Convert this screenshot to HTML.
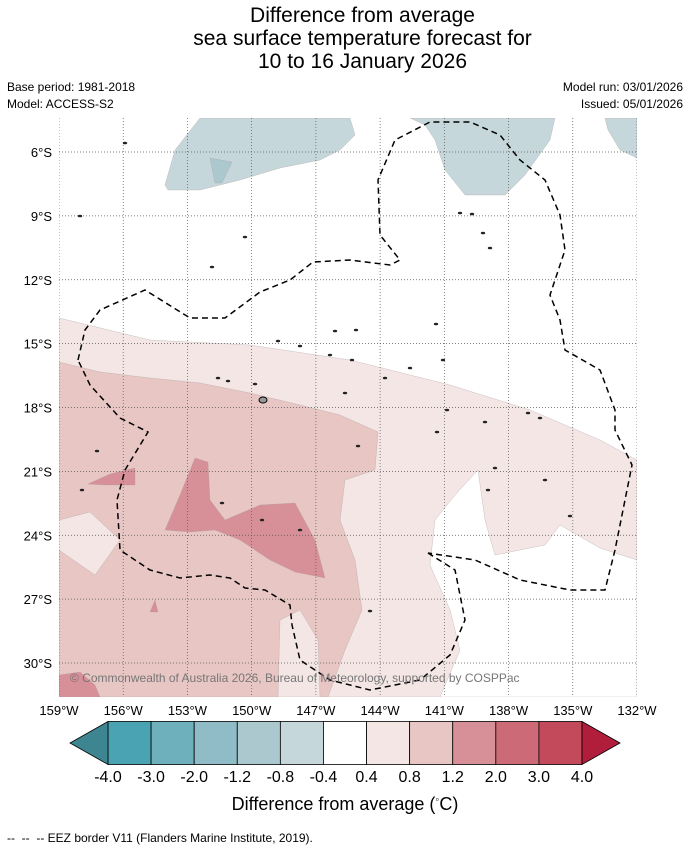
<!DOCTYPE html>
<html><head><meta charset="utf-8"><style>
body{margin:0;background:#fff;font-family:"Liberation Sans","DejaVu Sans",sans-serif}
#wrap{position:relative;width:690px;height:850px;background:#fff;overflow:hidden}
.t{position:absolute;color:#000}
</style></head><body>
<div id="wrap">
<div class="t" style="left:0;width:725px;top:4px;text-align:center;font-size:21px;line-height:23px">Difference from average<br>sea surface temperature forecast for<br>10 to 16 January 2026</div>
<div class="t" style="left:7px;top:80px;font-size:12px">Base period: 1981-2018</div>
<div class="t" style="left:7px;top:97px;font-size:12px">Model: ACCESS-S2</div>
<div class="t" style="right:7px;top:80px;font-size:12px;text-align:right">Model run: 03/01/2026</div>
<div class="t" style="right:7px;top:97px;font-size:12px;text-align:right">Issued: 05/01/2026</div>
<svg id="svg" width="690" height="850" style="position:absolute;left:0;top:0"></svg>
<div class="t" style="left:0;width:690px;top:794px;text-align:center;font-size:18px">Difference from average (<sup style="font-size:11px">◦</sup>C)</div>
<div class="t" style="left:7px;top:831px;font-size:12px">--&nbsp; --&nbsp; -- EEZ border V11 (Flanders Marine Institute, 2019).</div>
</div>
<script>
const lonTicks=[-159,-156,-153,-150,-147,-144,-141,-138,-135,-132];
const latTicks=[6,9,12,15,18,21,24,27,30];
const cbLevels=[-4.0,-3.0,-2.0,-1.2,-0.8,-0.4,0.4,0.8,1.2,2.0,3.0,4.0];
const cbLabels=["-4.0","-3.0","-2.0","-1.2","-0.8","-0.4","0.4","0.8","1.2","2.0","3.0","4.0"];
const cbColors=["#4aa3b3","#6fb0bd","#8fbcc7","#aac8cd","#c6d7db","#ffffff","#f3e6e5","#e7c6c3","#d78f98","#cc6b77","#c24a5a"];
const X0=59,X1=637,Y0=118,Y1=697;
const xs=lon=>X0+(lon+159)*(578/27);
const ys=lat=>152+(lat-6)*(511/24);
const NS="http://www.w3.org/2000/svg";
const svg=document.getElementById('svg');
function mk(tag,attrs,parent){const e=document.createElementNS(NS,tag);for(const k in attrs)e.setAttribute(k,attrs[k]);(parent||svg).appendChild(e);return e;}
const clip=mk('clipPath',{id:'mc'});mk('rect',{x:X0,y:Y0,width:X1-X0,height:Y1-Y0},clip);
const g=mk('g',{'clip-path':'url(#mc)'});
function poly(pts,fill,name){const p=mk('polygon',{points:pts,fill:fill,stroke:fill==='none'?'none':'#a9a0a0','stroke-width':0.3},g);

return p;}
poly("59,318 150,340 250,345 350,360 450,385 530,410 600,440 637,460 637,697 59,697","#f3e6e5","contour-0.4-0.8");
poly("637,560 600,548 560,525 545,545 495,555 485,520 478,470 455,495 435,520 430,565 450,610 460,650 440,697 637,697","#ffffff","contour-white-southeast");
poly("59,362 100,372 150,378 200,383 250,393 300,405 340,415 378,432 375,470 360,475 345,480 340,520 355,560 362,610 345,650 328,697 59,697","#e7c6c3","contour-0.8-1.2");
poly("59,520 90,512 120,540 95,575 59,550","#f3e6e5","contour-light-west");
poly("280,620 300,610 318,640 320,697 278,697","#f3e6e5","contour-light-south");
poly("165,530 180,495 195,458 208,462 210,500 225,520 260,505 295,503 315,540 325,578 295,572 270,560 240,540 215,530 190,532","#d78f98","contour-1.2-2.0-main");
poly("88,484 110,474 135,468 135,485 105,485","#d78f98","contour-1.2-2.0-small");
poly("150,612 155,600 158,612","#d78f98","contour-1.2-2.0-tiny");
poly("59,675 80,672 95,685 100,697 59,697","#d78f98","contour-1.2-2.0-corner");
poly("165,185 175,150 200,118 350,118 355,135 340,150 320,160 280,168 240,180 200,190 168,190","#c6d7db","contour-cool-north");
poly("410,118 555,118 550,140 525,175 505,195 465,195 445,170 435,140 425,125","#c6d7db","contour-cool-northeast");
poly("605,118 637,118 637,158 620,150 608,130","#c6d7db","contour-cool-east");
poly("210,158 232,162 222,183 215,183","#aac8cd","contour-cool-patch");
// gridlines
lonTicks.forEach(l=>{const ln=mk('line',{x1:xs(l),x2:xs(l),y1:Y0,y2:Y1,stroke:'#555','stroke-width':0.7,'stroke-dasharray':'1,2'},g);

});
latTicks.forEach(l=>{const ln=mk('line',{x1:X0,x2:X1,y1:ys(l),y2:ys(l),stroke:'#555','stroke-width':0.7,'stroke-dasharray':'1,2'},g);

});
// EEZ
const e1=mk('polyline',{points:"78,360 85,330 100,310 145,290 190,318 225,318 260,292 290,280 313,262 350,260 390,265 400,260 380,235 378,180 395,140 430,122 470,122 500,135 520,160 545,180 560,215 565,250 550,295 560,320 565,350 600,370 615,410 615,430 632,465 625,500 615,550 605,590 570,590 545,585 520,580 475,560 428,553",fill:'none',stroke:'#000','stroke-width':1.5,'stroke-dasharray':'6,4'},g);


const e2=mk('polyline',{points:"428,553 455,570 465,620 450,655 420,680 370,690 330,680 300,660 292,625 290,605 265,590 245,588 230,578 210,575 180,578 150,570 120,550 117,500 125,470 148,432 120,418 90,385 78,360",fill:'none',stroke:'#000','stroke-width':1.5,'stroke-dasharray':'6,4'},g);


// islands
[[125,143],[80,216],[245,237],[212,267],[460,213],[472,214],[483,233],[490,248],[278,341],[300,346],[335,331],[356,330],[330,355],[352,360],[443,360],[436,324],[218,378],[228,381],[263,400],[255,384],[345,393],[385,378],[410,368],[447,410],[485,422],[540,418],[495,468],[488,490],[570,516],[545,480],[262,520],[300,530],[222,503],[370,611],[97,451],[82,490],[358,446],[437,432],[528,413]].forEach(p=>{
const c=mk('ellipse',{cx:p[0],cy:p[1],rx:2.2,ry:1.3,fill:'#222'},g);

});
const ci=mk('ellipse',{cx:263,cy:400,rx:4,ry:3,fill:'#999',stroke:'#000'},g);


const cp=mk('text',{x:70,y:682,'font-size':12,fill:'#777','font-family':'Liberation Sans, sans-serif'});
cp.textContent="© Commonwealth of Australia 2026, Bureau of Meteorology, supported by COSPPac";


// tick labels
latTicks.forEach(l=>{const t=mk('text',{x:52,y:ys(l)+5,'text-anchor':'end','font-size':13});t.textContent=l+"°S";

});
lonTicks.forEach(l=>{const t=mk('text',{x:xs(l),y:715,'text-anchor':'middle','font-size':13});t.textContent=Math.abs(l)+"°W";

});
// colorbar
const cbX0=108,cbX1=582,cbY=743,cbH=43;
const cw=(cbX1-cbX0)/cbColors.length;
cbColors.forEach((c,i)=>{const r=mk('rect',{x:cbX0+i*cw,y:cbY-cbH/2,width:cw,height:cbH,fill:c,stroke:'#000','stroke-width':0.8});

});
const al=mk('polygon',{points:`${cbX0},${cbY-cbH/2} 70,${cbY} ${cbX0},${cbY+cbH/2}`,fill:'#3d8590',stroke:'#000','stroke-width':0.8});


const ah=mk('polygon',{points:`${cbX1},${cbY-cbH/2} 620,${cbY} ${cbX1},${cbY+cbH/2}`,fill:'#b01e3c',stroke:'#000','stroke-width':0.8});


cbLabels.forEach((s,i)=>{const t=mk('text',{x:cbX0+i*cw,y:782,'text-anchor':'middle','font-size':16});t.textContent=s;

});
</script>
</body></html>
